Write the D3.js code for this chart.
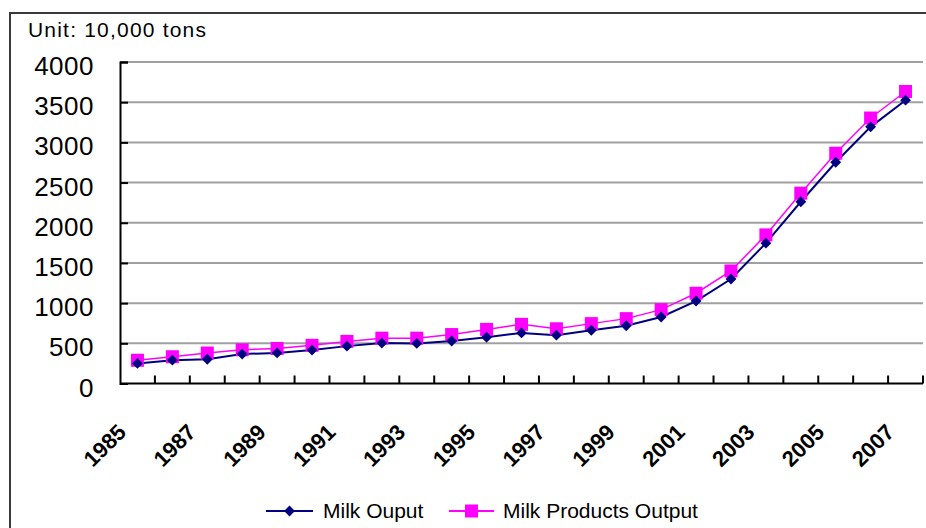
<!DOCTYPE html>
<html>
<head>
<meta charset="utf-8">
<script src="https://cdn.jsdelivr.net/npm/d3@7"></script>
<style>
    html, body { margin: 0; padding: 0; background: #fff; }
    svg { display: block; font-family: "Liberation Sans", Arial, sans-serif; }
</style>
</head>
<body>
<svg id="chart" width="926" height="528"></svg>
<script>
// Milk output chart, 1985-2007 (unit: 10,000 tons)

const years = d3.range(1985, 2008);
const yearLabels = years.filter(y => (y - 1985) % 2 === 0);
const yTicks = [0, 500, 1000, 1500, 2000, 2500, 3000, 3500, 4000];

const milkOutput = [
    250, 290, 302, 366, 381, 416, 465, 503, 499, 529, 576, 629,
    601, 663, 718, 827, 1026, 1300, 1746, 2261, 2753, 3193, 3525
];
const milkProductsOutput = [
    289, 333, 379, 419, 436, 475, 524, 564, 564, 609, 673, 736,
    681, 745, 807, 919, 1123, 1400, 1849, 2368, 2865, 3303, 3633
];

const seriesNames = ['Milk Ouput', 'Milk Products Output'];
const seriesColors = ['#000080', '#ff00ff'];

const svg = d3.select('#chart');

// Layout
const plot = { left: 120, right: 923, top: 62, bottom: 383.5 };

const xScale = d3.scaleBand()
    .domain(years)
    .range([plot.left, plot.right])
    .padding(0);

const yScale = d3.scaleLinear()
    .domain([0, 4000])
    .range([plot.bottom, plot.top]);

const xCenter = y => xScale(y) + xScale.bandwidth() / 2;

// Outer frame (runs off the right and bottom edges)
svg.append('rect')
    .attr('x', 10).attr('y', 13)
    .attr('width', 1000).attr('height', 1000)
    .attr('fill', 'none')
    .attr('stroke', '#3a3a3a')
    .attr('stroke-width', 2);

svg.append('text')
    .attr('x', 28).attr('y', 37)
    .attr('font-size', 21)
    .attr('letter-spacing', 1.2)
    .attr('fill', '#000')
    .text('Unit: 10,000 tons');

// Gridlines
svg.append('g')
    .selectAll('line')
    .data(yTicks.filter(v => v > 0))
    .join('line')
    .attr('x1', plot.left).attr('x2', plot.right)
    .attr('y1', d => yScale(d)).attr('y2', d => yScale(d))
    .attr('stroke', '#a0a0a0')
    .attr('stroke-width', 2);

// Y axis, ticks pointing into the plot
const yAxis = svg.append('g')
    .attr('transform', `translate(${plot.left},0)`)
    .call(d3.axisRight(yScale).tickValues(yTicks).tickSize(8).tickFormat(''));
yAxis.select('.domain').attr('stroke-width', 2);
yAxis.selectAll('.tick line').attr('stroke-width', 2);

svg.append('g')
    .selectAll('text')
    .data(yTicks)
    .join('text')
    .attr('x', 94)
    .attr('y', d => yScale(d) + 13)
    .attr('text-anchor', 'end')
    .attr('font-size', 26)
    .attr('letter-spacing', 0.5)
    .attr('fill', '#000')
    .text(d => d);

// X axis, ticks at band edges pointing up
const xAxis = svg.append('g')
    .attr('transform', `translate(0,${plot.bottom})`);
xAxis.append('line')
    .attr('x1', plot.left).attr('x2', plot.right)
    .attr('stroke', '#000').attr('stroke-width', 2);
xAxis.selectAll('.xtick')
    .data(years.slice(1).concat([null]))
    .join('line')
    .attr('class', 'xtick')
    .attr('x1', d => d === null ? plot.right : xScale(d))
    .attr('x2', d => d === null ? plot.right : xScale(d))
    .attr('y1', 0).attr('y2', -8)
    .attr('stroke', '#000').attr('stroke-width', 2);

svg.append('g')
    .selectAll('text')
    .data(yearLabels)
    .join('text')
    .attr('transform', d => `translate(${xCenter(d) - 10},${plot.bottom + 50}) rotate(-45)`)
    .attr('text-anchor', 'end')
    .attr('font-size', 22)
    .attr('font-weight', 'bold')
    .attr('fill', '#000')
    .text(d => d);

// Lines and markers
const allSeries = [milkOutput, milkProductsOutput];
const line = d3.line()
    .x((d, i) => xCenter(years[i]))
    .y(d => yScale(d));

allSeries.forEach((values, si) => {
    svg.append('path')
        .datum(values)
        .attr('fill', 'none')
        .attr('stroke', seriesColors[si])
        .attr('stroke-width', si === 0 ? 2 : 1.5)
        .attr('d', line);
});

const diamond = d3.symbol().type(d3.symbolDiamond2).size(75);

svg.append('g')
    .selectAll('rect')
    .data(milkProductsOutput)
    .join('rect')
    .attr('x', (d, i) => xCenter(years[i]) - 6.5)
    .attr('y', d => yScale(d) - 6.5)
    .attr('width', 13).attr('height', 13)
    .attr('fill', seriesColors[1]);

svg.append('g')
    .selectAll('path')
    .data(milkOutput)
    .join('path')
    .attr('transform', (d, i) => `translate(${xCenter(years[i])},${yScale(d)})`)
    .attr('d', diamond)
    .attr('fill', seriesColors[0]);

// Legend
const legend = svg.append('g');
const legendItems = [
    { x1: 266, x2: 313, textX: 323 },
    { x1: 449, x2: 494, textX: 503 }
];
legendItems.forEach((item, i) => {
    const cx = (item.x1 + item.x2) / 2;
    const ly = 511;
    legend.append('line')
        .attr('x1', item.x1).attr('x2', item.x2)
        .attr('y1', ly).attr('y2', ly)
        .attr('stroke', seriesColors[i])
        .attr('stroke-width', 2);
    if (i === 0) {
        legend.append('path')
            .attr('transform', `translate(${cx},${ly})`)
            .attr('d', diamond)
            .attr('fill', seriesColors[0]);
    } else {
        legend.append('rect')
            .attr('x', cx - 6.5).attr('y', ly - 6.5)
            .attr('width', 13).attr('height', 13)
            .attr('fill', seriesColors[1]);
    }
    legend.append('text')
        .attr('x', item.textX).attr('y', 518)
        .attr('font-size', 21)
        .attr('fill', '#000')
        .text(seriesNames[i]);
});
</script>
</body>
</html>
